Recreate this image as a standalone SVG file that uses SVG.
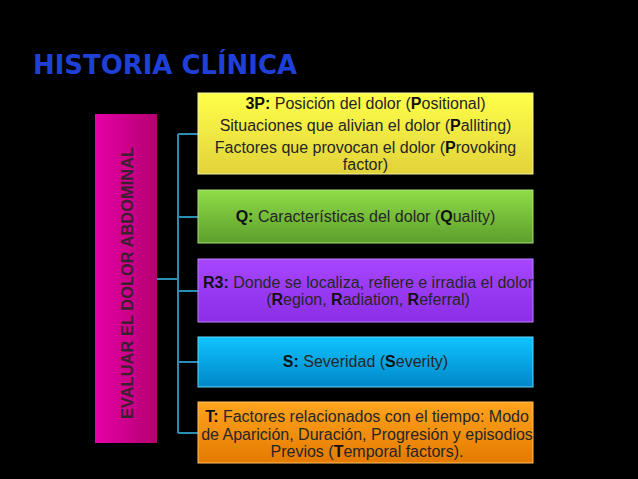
<svg xmlns="http://www.w3.org/2000/svg" width="638" height="479" viewBox="0 0 638 479">
<defs>
<linearGradient id="gMag" x1="0" y1="0" x2="1" y2="0"><stop offset="0" stop-color="#e600a8"/><stop offset="1" stop-color="#b4006f"/></linearGradient>
<linearGradient id="gYel" x1="0" y1="0" x2="0" y2="1"><stop offset="0" stop-color="#ffff4a"/><stop offset="1" stop-color="#e2d23a"/></linearGradient>
<linearGradient id="gGrn" x1="0" y1="0" x2="0" y2="1"><stop offset="0" stop-color="#90dc48"/><stop offset="1" stop-color="#5c9e2c"/></linearGradient>
<linearGradient id="gPur" x1="0" y1="0" x2="0" y2="1"><stop offset="0" stop-color="#a746ff"/><stop offset="1" stop-color="#8a2ee6"/></linearGradient>
<linearGradient id="gBlu" x1="0" y1="0" x2="0" y2="1"><stop offset="0" stop-color="#10c4ff"/><stop offset="1" stop-color="#0086c8"/></linearGradient>
<linearGradient id="gOrg" x1="0" y1="0" x2="0" y2="1"><stop offset="0" stop-color="#ffa41e"/><stop offset="1" stop-color="#e47a00"/></linearGradient>
</defs>
<style>
.t{font-family:"Liberation Sans",Arial,sans-serif;font-size:16px;fill:#262626;text-anchor:middle}
.b{font-weight:bold;fill:#111}
.box{stroke-width:1}
.con{fill:none;stroke:#2b8db4;stroke-width:2}
</style>
<rect width="638" height="479" fill="#000"/>
<text x="33" y="74" font-family="'Liberation Sans Narrow','DejaVu Sans Condensed',sans-serif" font-size="26" font-weight="bold" fill="#1f40d8" textLength="264" lengthAdjust="spacingAndGlyphs">HISTORIA CLÍNICA</text>
<g id="connectors">
<path class="con" d="M157 279H178M178 134V433M178 134H198M178 217H198M178 291H198M178 362H198M178 433H198"/>
</g>
<g id="root">
<rect x="95" y="114" width="62" height="329" fill="url(#gMag)"/>
<text transform="translate(133 283) rotate(-90)" font-family="'Liberation Sans',Arial,sans-serif" font-size="16.3" font-weight="bold" fill="#3a2030" text-anchor="middle" textLength="272" lengthAdjust="spacing">EVALUAR EL DOLOR ABDOMINAL</text>
</g>
<g id="p3">
<rect class="box" x="198" y="93" width="335" height="81" fill="url(#gYel)" stroke="#f4f0a0"/>
<text class="t" x="365.5" y="109"><tspan class="b">3P:</tspan> Posición del dolor (<tspan class="b">P</tspan>ositional)</text>
<text class="t" x="365.5" y="131">Situaciones que alivian el dolor (<tspan class="b">P</tspan>alliting)</text>
<text class="t" x="365.5" y="153">Factores que provocan el dolor (<tspan class="b">P</tspan>rovoking</text>
<text class="t" x="365.5" y="170">factor)</text>
</g>
<g id="q">
<rect class="box" x="198" y="190" width="335" height="53" fill="url(#gGrn)" stroke="#a8e070"/>
<text class="t" x="365.5" y="222"><tspan class="b">Q:</tspan> Características del dolor (<tspan class="b">Q</tspan>uality)</text>
</g>
<g id="r3">
<rect class="box" x="198" y="259" width="335" height="63" fill="url(#gPur)" stroke="#c080ff"/>
<text class="t" x="368" y="288"><tspan class="b">R3:</tspan> Donde se localiza, refiere e irradia el dolor</text>
<text class="t" x="368" y="305">(<tspan class="b">R</tspan>egion, <tspan class="b">R</tspan>adiation, <tspan class="b">R</tspan>eferral)</text>
</g>
<g id="s">
<rect class="box" x="198" y="337" width="335" height="50" fill="url(#gBlu)" stroke="#60d8ff"/>
<text class="t" x="365.5" y="367"><tspan class="b">S:</tspan> Severidad (<tspan class="b">S</tspan>everity)</text>
</g>
<g id="t">
<rect class="box" x="198" y="402" width="335" height="61" fill="url(#gOrg)" stroke="#ffc060"/>
<text class="t" x="367" y="422"><tspan class="b">T:</tspan> Factores relacionados con el tiempo: Modo</text>
<text class="t" x="367" y="440">de Aparición, Duración, Progresión y episodios</text>
<text class="t" x="367" y="457">Previos (<tspan class="b">T</tspan>emporal factors).</text>
</g>
</svg>
